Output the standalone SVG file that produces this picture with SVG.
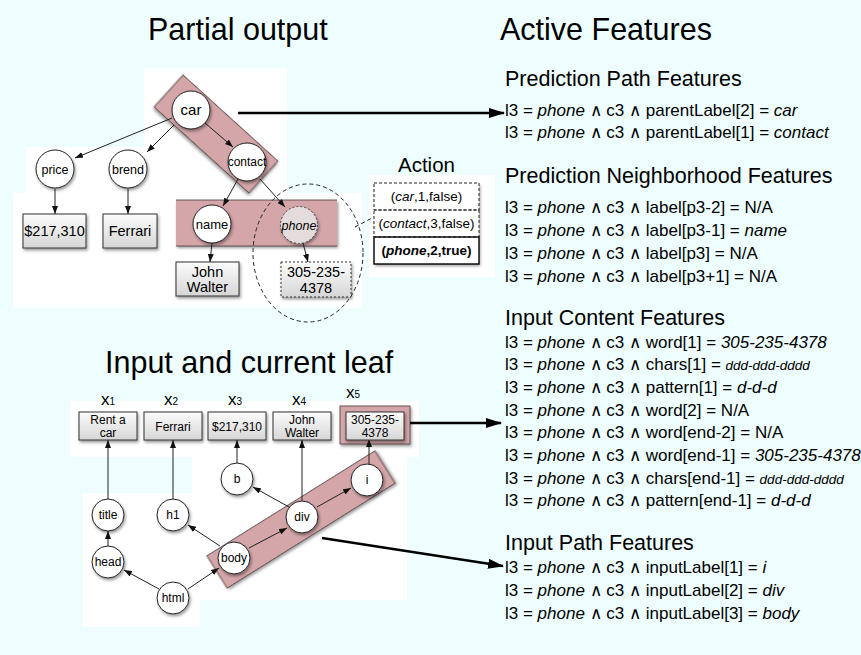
<svg xmlns="http://www.w3.org/2000/svg" width="861" height="655" viewBox="0 0 861 655">
<defs>
  <linearGradient id="boxFill" x1="0" y1="0" x2="0" y2="1">
    <stop offset="0" stop-color="#fcfcfc"/>
    <stop offset="1" stop-color="#d6d6d6"/>
  </linearGradient>
  <filter id="shadow" x="-30%" y="-30%" width="160%" height="170%">
    <feDropShadow dx="1.2" dy="2" stdDeviation="1.4" flood-color="#000" flood-opacity="0.4"/>
  </filter>
  <marker id="tip" viewBox="0 0 8 6" markerWidth="8" markerHeight="6" refX="8" refY="3" orient="auto" markerUnits="userSpaceOnUse">
    <path d="M0,0 L8,3 L0,6 z" fill="#111"/>
  </marker>
  <marker id="bigTip" viewBox="0 0 16 10" markerWidth="16" markerHeight="10" refX="15" refY="5" orient="auto" markerUnits="userSpaceOnUse">
    <path d="M0,0 L16,5 L0,10 z" fill="#000"/>
  </marker>
</defs>
<style>
  text { font-family: "Liberation Sans", Arial, Helvetica, sans-serif; fill: #000; }
  .title { font-size: 30.5px; }
  .hdr { font-size: 21.5px; }
  .item { font-size: 17px; }
  .it { font-style: italic; }
  .sm { font-size: 13.5px; }
  .c { text-anchor: middle; }
  .panel { fill: #fff; }
  .hl { fill: #d5a6a9; stroke: #4a3a3a; stroke-width: 0.8; filter: url(#shadow); }
  .node circle { fill: #fff; stroke: #222; stroke-width: 1; filter: url(#shadow); }
  .node text { font-size: 12.5px; text-anchor: middle; }
  .box rect { fill: url(#boxFill); stroke: #333; stroke-width: 1; filter: url(#shadow); }
  .box text { text-anchor: middle; }
  .edge { stroke: #222; stroke-width: 1; fill: none; marker-end: url(#tip); }
  .big { stroke: #000; stroke-width: 2.5; fill: none; marker-end: url(#bigTip); }
  .dash { stroke: #222; stroke-width: 1; fill: none; stroke-dasharray: 4 3; }
</style>

<!-- page background -->
<rect x="0" y="0" width="861" height="655" fill="#eefefe"/>

<!-- white panels behind the two trees and the action list -->
<g id="panels">
  <rect class="panel" x="144" y="68" width="143" height="126"/>
  <rect class="panel" x="26" y="147" width="118" height="47"/>
  <rect class="panel" x="13" y="193" width="349" height="115"/>
  <rect class="panel" x="369" y="175" width="126" height="102"/>
  <rect class="panel" x="70" y="401" width="349" height="56"/>
  <rect class="panel" x="192" y="456" width="215" height="144"/>
  <rect class="panel" x="83" y="493" width="117" height="134"/>
</g>

<!-- titles -->
<text class="title" x="148" y="40">Partial output</text>
<text class="title" x="500" y="40">Active Features</text>
<text class="title" x="105" y="373">Input and current leaf</text>
<text x="398" y="172" style="font-size:20.5px">Action</text>

<!-- highlighted regions -->
<g id="highlights">
  <rect class="hl" x="152" y="112.5" width="128" height="43" transform="rotate(42.2 216 134)"/>
  <rect x="176" y="200" width="161" height="46" fill="#d5a6a9" filter="url(#shadow)"/>
  <line x1="176" y1="200" x2="337" y2="200" stroke="#4a3a3a" stroke-width="0.8"/>
  <line x1="176" y1="246" x2="337" y2="246" stroke="#4a3a3a" stroke-width="0.8"/>
  <rect class="hl" x="202" y="500.5" width="198" height="38" transform="rotate(-32 301 519.5)"/>
  <rect class="hl" x="340" y="406" width="70" height="38"/>
</g>

<!-- connectors -->
<g id="connectors">
  <!-- partial output tree -->
  <line class="edge" x1="172" y1="118" x2="75" y2="158"/>
  <line class="edge" x1="174" y1="125" x2="147" y2="152"/>
  <line class="edge" x1="205" y1="123" x2="233" y2="147"/>
  <line class="edge" x1="55" y1="189" x2="55" y2="214"/>
  <line class="edge" x1="128" y1="189" x2="128" y2="214"/>
  <line class="edge" x1="238" y1="179" x2="223" y2="206"/>
  <line class="edge" x1="260" y1="179" x2="285" y2="207"/>
  <line class="edge" x1="212" y1="243" x2="210" y2="262"/>
  <line class="edge" x1="303" y1="243" x2="308" y2="262"/>
  <!-- input tree -->
  <line class="edge" x1="108" y1="499" x2="108" y2="440"/>
  <line class="edge" x1="173" y1="499" x2="173" y2="440"/>
  <line class="edge" x1="237" y1="463" x2="237" y2="440"/>
  <line class="edge" x1="302" y1="501" x2="302" y2="440"/>
  <line class="edge" x1="369" y1="464" x2="369" y2="439"/>
  <line class="edge" x1="108" y1="546" x2="108" y2="531"/>
  <line class="edge" x1="159" y1="589" x2="124" y2="570"/>
  <line class="edge" x1="188" y1="589" x2="219" y2="568"/>
  <line class="edge" x1="220" y1="546" x2="188" y2="525"/>
  <line class="edge" x1="249" y1="548" x2="287" y2="528"/>
  <line class="edge" x1="289" y1="507" x2="253" y2="487"/>
  <line class="edge" x1="317" y1="507" x2="351" y2="488"/>
  <!-- links to feature groups -->
  <line class="big" x1="238" y1="113" x2="504" y2="113"/>
  <line class="big" x1="410" y1="423" x2="501" y2="423"/>
  <line class="big" x1="322" y1="538" x2="503" y2="566"/>
  <!-- selection ring and its link to the action list -->
  <ellipse class="dash" cx="308" cy="253" rx="55" ry="69"/>
  <line class="dash" x1="355" y1="227" x2="372" y2="218"/>
</g>

<!-- partial output nodes -->
<g id="n-car" class="node"><circle cx="191" cy="110" r="19"/><text x="191" y="115" style="font-size:15px">car</text></g>
<g id="n-price" class="node"><circle cx="55" cy="169" r="19"/><text x="55" y="173.5">price</text></g>
<g id="n-brend" class="node"><circle cx="128" cy="169" r="19"/><text x="128" y="173.5">brend</text></g>
<g id="n-contact" class="node"><circle cx="247" cy="162" r="19"/><text x="247" y="166" style="font-size:12px">contact</text></g>
<g id="n-name" class="node"><circle cx="212" cy="224" r="19"/><text x="212" y="228.5" style="font-size:13px">name</text></g>
<g id="n-phone" class="node"><circle cx="299" cy="225" r="18.5" style="fill:#e4dcdc;stroke:#444;stroke-dasharray:2 2"/><text x="299" y="229.5" class="it">phone</text></g>

<g id="b-price" class="box"><rect x="23" y="214" width="63" height="34"/><text x="54.5" y="236" style="font-size:14.5px">$217,310</text></g>
<g id="b-brand" class="box"><rect x="103" y="214" width="54" height="34"/><text x="130" y="236" style="font-size:14.5px">Ferrari</text></g>
<g id="b-name" class="box"><rect x="176" y="262" width="63" height="34"/><text x="207.5" y="277" style="font-size:14.5px">John</text><text x="207.5" y="292" style="font-size:14.5px">Walter</text></g>
<g id="b-phone" class="box"><rect x="281" y="262" width="70" height="35" style="stroke-dasharray:2 2"/><text x="316" y="277" style="font-size:14.5px">305-235-</text><text x="316" y="293" style="font-size:14.5px">4378</text></g>

<!-- action list -->
<g id="action" style="font-size:13.5px">
  <rect x="374" y="183" width="105" height="81" fill="#fff" filter="url(#shadow)"/>
  <rect x="374" y="183" width="105" height="27" fill="none" stroke="#222" stroke-dasharray="3 2"/>
  <rect x="374" y="210" width="105" height="27" fill="none" stroke="#222" stroke-dasharray="3 2"/>
  <rect x="374" y="237" width="105" height="27" fill="none" stroke="#111" stroke-width="1.5"/>
  <text class="c" x="426.5" y="201">(<tspan class="it">car</tspan>,1,false)</text>
  <text class="c" x="426.5" y="228">(<tspan class="it">contact</tspan>,3,false)</text>
  <text class="c" x="426.5" y="255" font-weight="bold">(<tspan class="it">phone</tspan>,2,true)</text>
</g>

<!-- input tokens -->
<g id="tokens" style="font-size:17px">
  <text x="101" y="405">x<tspan style="font-size:10px">1</tspan></text>
  <text x="164" y="405">x<tspan style="font-size:10px">2</tspan></text>
  <text x="228" y="405">x<tspan style="font-size:10px">3</tspan></text>
  <text x="292" y="405">x<tspan style="font-size:10px">4</tspan></text>
  <text x="346" y="398">x<tspan style="font-size:10px">5</tspan></text>
</g>
<g id="x1" class="box" style="font-size:12px"><rect x="79" y="412" width="58" height="28"/><text x="108" y="424">Rent a</text><text x="108" y="437">car</text></g>
<g id="x2" class="box" style="font-size:12px"><rect x="144" y="412" width="58" height="28"/><text x="173" y="431">Ferrari</text></g>
<g id="x3" class="box" style="font-size:12px"><rect x="208" y="412" width="58" height="28"/><text x="237" y="431">$217,310</text></g>
<g id="x4" class="box" style="font-size:12px"><rect x="273" y="412" width="58" height="28"/><text x="302" y="424">John</text><text x="302" y="437">Walter</text></g>
<g id="x5" class="box" style="font-size:12px"><rect x="346" y="412" width="58" height="28"/><text x="375" y="424">305-235-</text><text x="375" y="437">4378</text></g>

<!-- input tree nodes -->
<g id="n-title" class="node"><circle cx="108" cy="515" r="16"/><text x="108" y="519" style="font-size:12px">title</text></g>
<g id="n-h1" class="node"><circle cx="173" cy="515" r="16"/><text x="173" y="519" style="font-size:12px">h1</text></g>
<g id="n-b" class="node"><circle cx="237" cy="479" r="16"/><text x="237" y="483" style="font-size:12px">b</text></g>
<g id="n-div" class="node"><circle cx="302" cy="517" r="16"/><text x="302" y="521" style="font-size:12px">div</text></g>
<g id="n-i" class="node"><circle cx="367" cy="480" r="16"/><text x="367" y="484" style="font-size:12px">i</text></g>
<g id="n-head" class="node"><circle cx="108" cy="562" r="16"/><text x="108" y="566" style="font-size:12px">head</text></g>
<g id="n-body" class="node"><circle cx="234" cy="558" r="16"/><text x="234" y="562" style="font-size:12px">body</text></g>
<g id="n-html" class="node"><circle cx="173" cy="598" r="16"/><text x="173" y="602" style="font-size:12px">html</text></g>

<!-- feature lists -->
<g id="features">
  <text class="hdr" x="505" y="86">Prediction Path Features</text>
  <text class="item" x="505" y="116">l3 = <tspan class="it">phone</tspan> ∧ c3 ∧ parentLabel[2] = <tspan class="it">car</tspan></text>
  <text class="item" x="505" y="138">l3 = <tspan class="it">phone</tspan> ∧ c3 ∧ parentLabel[1] = <tspan class="it">contact</tspan></text>

  <text class="hdr" x="505" y="183">Prediction Neighborhood Features</text>
  <text class="item" x="505" y="213">l3 = <tspan class="it">phone</tspan> ∧ c3 ∧ label[p3-2] = N/A</text>
  <text class="item" x="505" y="236">l3 = <tspan class="it">phone</tspan> ∧ c3 ∧ label[p3-1] = <tspan class="it">name</tspan></text>
  <text class="item" x="505" y="259">l3 = <tspan class="it">phone</tspan> ∧ c3 ∧ label[p3] = N/A</text>
  <text class="item" x="505" y="282">l3 = <tspan class="it">phone</tspan> ∧ c3 ∧ label[p3+1] = N/A</text>

  <text class="hdr" x="505" y="325">Input Content Features</text>
  <text class="item" x="505" y="348">l3 = <tspan class="it">phone</tspan> ∧ c3 ∧ word[1] = <tspan class="it">305-235-4378</tspan></text>
  <text class="item" x="505" y="370">l3 = <tspan class="it">phone</tspan> ∧ c3 ∧ chars[1] = <tspan class="it sm">ddd-ddd-dddd</tspan></text>
  <text class="item" x="505" y="393">l3 = <tspan class="it">phone</tspan> ∧ c3 ∧ pattern[1] = <tspan class="it">d-d-d</tspan></text>
  <text class="item" x="505" y="416">l3 = <tspan class="it">phone</tspan> ∧ c3 ∧ word[2] = N/A</text>
  <text class="item" x="505" y="438">l3 = <tspan class="it">phone</tspan> ∧ c3 ∧ word[end-2] = N/A</text>
  <text class="item" x="505" y="461">l3 = <tspan class="it">phone</tspan> ∧ c3 ∧ word[end-1] = <tspan class="it">305-235-4378</tspan></text>
  <text class="item" x="505" y="484">l3 = <tspan class="it">phone</tspan> ∧ c3 ∧ chars[end-1] = <tspan class="it sm">ddd-ddd-dddd</tspan></text>
  <text class="item" x="505" y="506">l3 = <tspan class="it">phone</tspan> ∧ c3 ∧ pattern[end-1] = <tspan class="it">d-d-d</tspan></text>

  <text class="hdr" x="505" y="550">Input Path Features</text>
  <text class="item" x="505" y="573">l3 = <tspan class="it">phone</tspan> ∧ c3 ∧ inputLabel[1] = <tspan class="it">i</tspan></text>
  <text class="item" x="505" y="596">l3 = <tspan class="it">phone</tspan> ∧ c3 ∧ inputLabel[2] = <tspan class="it">div</tspan></text>
  <text class="item" x="505" y="619">l3 = <tspan class="it">phone</tspan> ∧ c3 ∧ inputLabel[3] = <tspan class="it">body</tspan></text>
</g>
</svg>
